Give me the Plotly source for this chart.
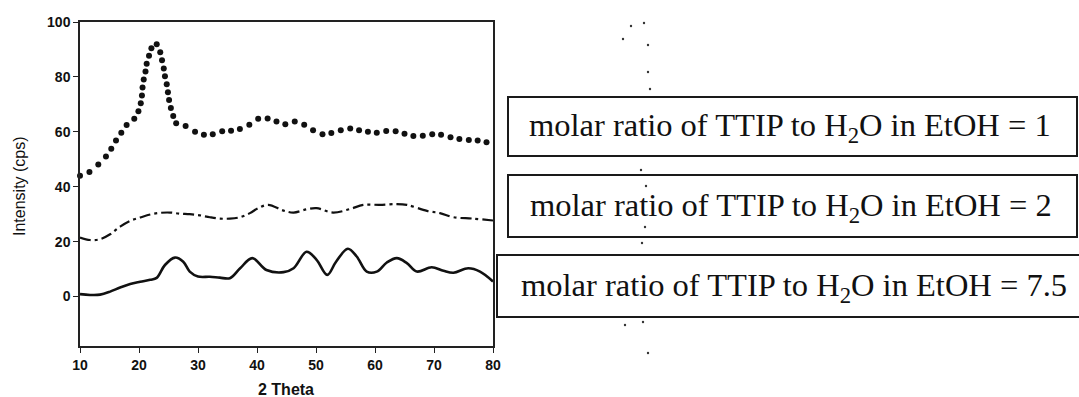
import plotly.graph_objects as go

# XRD patterns: intensity (cps) versus 2 Theta (degrees)
theta_r1 = [10.0, 11.6, 13.1, 14.4, 15.3, 16.1, 17.0, 17.9, 19.2, 19.9, 20.3, 20.5,
            20.6, 20.8, 21.1, 21.3, 21.7, 22.1, 23.0, 23.6, 23.9, 24.2, 24.4, 24.7,
            24.9, 25.1, 25.4, 25.8, 26.3, 27.9, 29.5, 31.0, 32.5, 34.1, 35.6, 37.1,
            38.7, 40.2, 41.8, 43.3, 44.8, 46.4, 48.0, 49.5, 51.1, 52.6, 54.2, 55.8,
            57.3, 58.8, 60.3, 61.9, 63.5, 65.0, 66.5, 68.1, 69.7, 71.2, 72.8, 74.3,
            75.9, 77.4, 78.9]
int_r1 = [44.0, 45.4, 48.1, 51.0, 53.8, 56.8, 59.7, 62.5, 64.8, 67.5, 70.4, 73.2,
          76.1, 79.1, 82.0, 84.8, 87.7, 90.4, 91.9, 89.0, 86.1, 83.1, 80.2, 77.3,
          74.4, 71.6, 68.7, 65.8, 63.1, 62.1, 60.0, 58.9, 59.1, 60.2, 60.4, 61.0,
          62.6, 64.8, 64.9, 63.8, 62.8, 63.8, 62.6, 60.6, 59.1, 59.6, 60.6, 61.2,
          60.6, 60.0, 59.7, 60.3, 60.2, 59.3, 58.5, 58.6, 59.1, 58.9, 58.0, 57.4,
          57.0, 56.8, 56.2]

theta_r2 = [10.0, 11.7, 13.4, 15.1, 16.8, 18.5, 20.2, 21.9, 23.6, 25.3, 26.9, 28.6,
            30.3, 32.0, 33.7, 35.4, 37.1, 38.8, 40.2, 41.9, 44.5, 46.2, 48.4, 50.1,
            52.9, 55.8, 58.0, 60.8, 63.7, 65.4, 68.8, 71.0, 73.3, 76.6, 80.0]
int_r2 = [21.5, 20.6, 20.9, 22.7, 25.5, 27.6, 28.8, 29.9, 30.5, 30.6, 30.2, 30.0,
          29.6, 28.9, 28.4, 28.4, 28.9, 30.4, 32.2, 33.4, 31.3, 30.6, 31.8, 32.2,
          30.6, 31.9, 33.4, 33.4, 33.7, 33.4, 31.2, 30.4, 28.9, 28.4, 27.7]

theta_r75 = [10.0, 11.7, 13.4, 15.1, 16.8, 18.5, 20.2, 21.9, 23.0, 24.4, 26.1, 27.5,
             28.6, 30.0, 32.0, 33.7, 35.4, 37.1, 39.2, 41.6, 44.5, 46.2, 48.4, 50.1,
             51.9, 53.4, 55.4, 56.9, 58.6, 60.3, 62.0, 63.7, 65.4, 67.1, 69.6, 71.6,
             73.3, 75.8, 77.8, 80.0]
int_r75 = [0.9, 0.6, 0.7, 1.8, 3.3, 4.6, 5.4, 6.1, 6.8, 11.5, 14.2, 12.7,
           9.1, 7.3, 7.2, 6.9, 6.7, 10.2, 14.0, 9.7, 8.9, 10.3, 16.3, 13.4,
           7.9, 12.7, 17.4, 14.6, 9.1, 9.1, 12.4, 14.0, 12.2, 9.1, 10.7, 9.4,
           8.7, 10.3, 9.1, 5.5]

legend_labels = [
    "molar ratio of TTIP to H<sub>2</sub>O in EtOH = 1",
    "molar ratio of TTIP to H<sub>2</sub>O in EtOH = 2",
    "molar ratio of TTIP to H<sub>2</sub>O in EtOH = 7.5",
]

x_ticks = [10, 20, 30, 40, 50, 60, 70, 80]
y_ticks = [0, 20, 40, 60, 80, 100]

W, H = 1079, 397
L, R, T, B = 80, 493, 22, 346


def px(x):
    return (x - L) / (R - L)


def py(y):
    return (B - y) / (B - T)


fig = go.Figure()
fig.add_trace(go.Scatter(x=theta_r1, y=int_r1, mode="markers",
                         marker=dict(size=6, color="#111111"), cliponaxis=False))
fig.add_trace(go.Scatter(x=theta_r2, y=int_r2, mode="lines",
                         line=dict(color="#111111", width=2.2, shape="spline",
                                   dash="11px,4px,3px,4px")))
fig.add_trace(go.Scatter(x=theta_r75, y=int_r75, mode="lines",
                         line=dict(color="#111111", width=2.6, shape="spline",
                                   smoothing=1.0)))

axis_font = dict(family="Liberation Sans, Arial", size=14, color="#111111")
fig.update_xaxes(range=[10, 80], tickvals=x_ticks,
                 ticktext=[f"<b>{v}</b>" for v in x_ticks],
                 ticks="outside", ticklen=5, tickcolor="#222", tickwidth=1,
                 showline=True, linecolor="#222", linewidth=1.5, mirror=True,
                 showgrid=False, zeroline=False, tickfont=axis_font)
fig.update_yaxes(range=[-18, 100], tickvals=y_ticks,
                 ticktext=[f"<b>{v}</b>" for v in y_ticks],
                 ticks="outside", ticklen=5, tickcolor="#222", tickwidth=1,
                 showline=True, linecolor="#222", linewidth=1.5, mirror=True,
                 showgrid=False, zeroline=False, tickfont=axis_font)

annotations = [
    dict(text="<b>2 Theta</b>", x=px(286), y=py(389), xref="paper", yref="paper",
         xanchor="center", yanchor="middle", showarrow=False,
         font=dict(family="Liberation Sans, Arial", size=16, color="#111")),
    dict(text="Intensity (cps)", x=px(19), y=py(186), xref="paper", yref="paper",
         xanchor="center", yanchor="middle", textangle=-90, showarrow=False,
         font=dict(family="Liberation Sans, Arial", size=16, color="#111")),
]

shapes = []
boxes = [(508, 97, 1077, 156), (508, 175, 1077, 237), (497, 255, 1085, 317)]
text_centres = [790, 791, 794]
for (x0, y0, x1, y1), cx, label in zip(boxes, text_centres, legend_labels):
    shapes.append(dict(type="rect", xref="paper", yref="paper",
                       x0=px(x0), x1=px(x1), y0=py(y1), y1=py(y0),
                       line=dict(color="#1a1a1a", width=2), fillcolor="white"))
    annotations.append(dict(text=label, x=px(cx),
                            y=py((y0 + y1) / 2 + 1), xref="paper", yref="paper",
                            showarrow=False, xanchor="center", yanchor="middle",
                            font=dict(family="Liberation Serif, Times New Roman",
                                      size=32.5, color="#111")))

# faint specks along the dotted separator
specks = [(631, 26), (644, 23), (623, 39), (648, 45), (648, 72), (650, 89),
          (641, 170), (646, 186), (645, 227), (642, 243), (625, 325), (643, 322),
          (648, 353)]
for sx, sy in specks:
    shapes.append(dict(type="circle", xref="paper", yref="paper",
                       x0=px(sx - 1.2), x1=px(sx + 1.2), y0=py(sy + 1.2), y1=py(sy - 1.2),
                       line=dict(width=0), fillcolor="#333"))

fig.update_layout(width=W, height=H, margin=dict(l=L, r=W - R, t=T, b=H - B),
                  paper_bgcolor="white", plot_bgcolor="white", showlegend=False,
                  shapes=shapes, annotations=annotations)

fig.write_html("out.html")
